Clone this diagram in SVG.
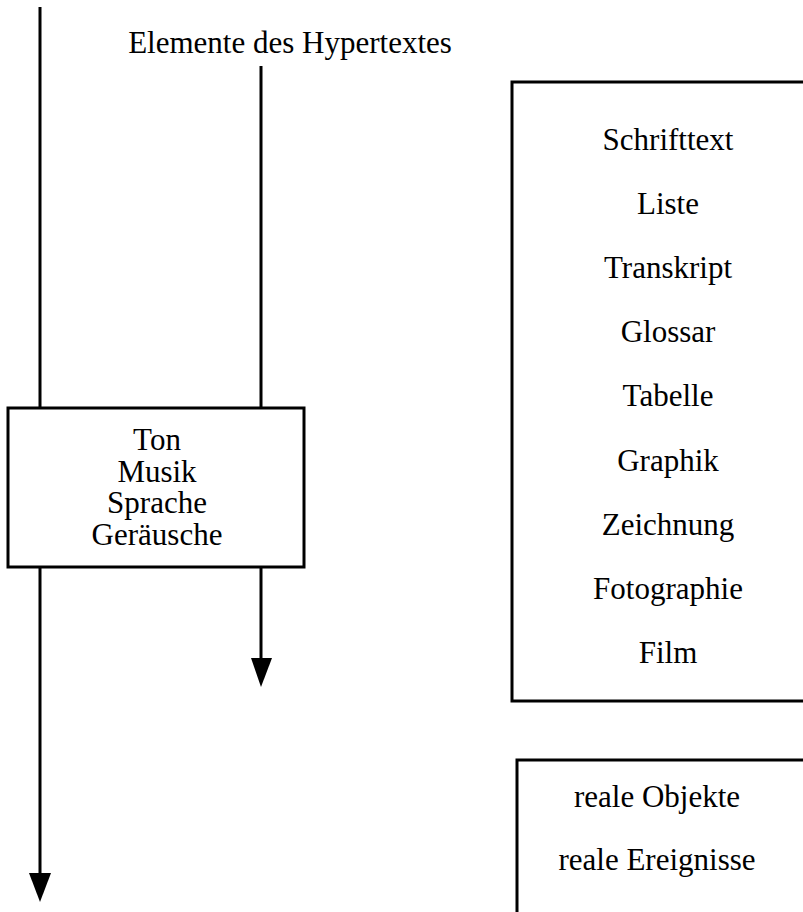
<svg xmlns="http://www.w3.org/2000/svg" width="803" height="912" viewBox="0 0 803 912">
<style>
text{font-family:"Liberation Serif","Times New Roman",serif;font-size:31px;fill:#000;text-anchor:middle}
.box{fill:#fff;stroke:#000;stroke-width:3}
.ln{stroke:#000;stroke-width:3;fill:none}
</style>
<defs>
<marker id="ah" markerUnits="userSpaceOnUse" markerWidth="24" markerHeight="32" refX="11" refY="30" orient="auto" viewBox="0 0 22 30">
<path d="M0,0 L22,0 L11,30 Z" fill="#000"/>
</marker>
</defs>
<rect width="803" height="912" fill="#fff"/>
<g id="title"><text x="290" y="53">Elemente des Hypertextes</text></g>
<g id="connectors">
<line class="ln" x1="40" y1="7" x2="40" y2="408"/>
<line class="ln" x1="261" y1="66" x2="261" y2="408"/>
<path class="ln" d="M40,567 V873" />
<path d="M29,873 L51,873 L40,902 Z" fill="#000"/>
<path class="ln" d="M261,567 V658" />
<path d="M251,658 L272,658 L261,687 Z" fill="#000"/>
</g>
<g id="ton">
<rect class="box" x="8" y="408" width="296" height="159"/>
<text x="157" y="450">Ton</text>
<text x="157" y="482">Musik</text>
<text x="157" y="513">Sprache</text>
<text x="157" y="545">Geräusche</text>
</g>
<g id="medien">
<rect class="box" x="512" y="82" width="300" height="619"/>
<text x="668" y="150">Schrifttext</text>
<text x="668" y="214">Liste</text>
<text x="668" y="278">Transkript</text>
<text x="668" y="342">Glossar</text>
<text x="668" y="406">Tabelle</text>
<text x="668" y="471">Graphik</text>
<text x="668" y="535">Zeichnung</text>
<text x="668" y="599">Fotographie</text>
<text x="668" y="663">Film</text>
</g>
<g id="real">
<rect class="box" x="517" y="760" width="300" height="170"/>
<text x="657" y="807">reale Objekte</text>
<text x="657" y="870">reale Ereignisse</text>
</g>
</svg>
